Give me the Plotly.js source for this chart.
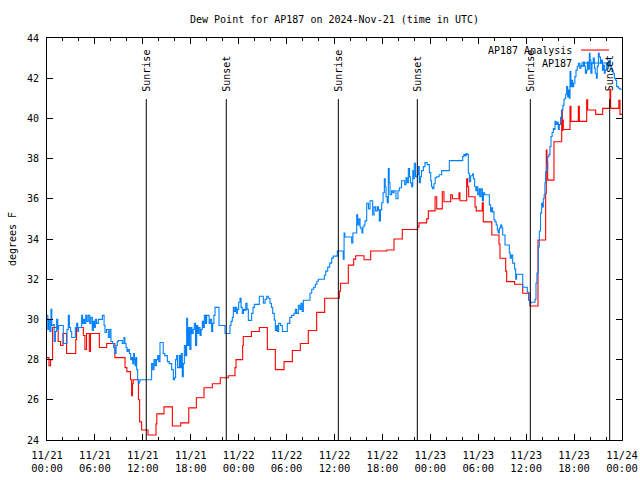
<!DOCTYPE html>
<html>
<head>
<meta charset="utf-8">
<script src="https://cdn.plot.ly/plotly-3.0.1.min.js"></script>
<style>html,body{margin:0;padding:0;background:#fff;}#chart{width:640px;height:480px;}</style>
</head>
<body>
<div id="chart"></div>
<script>
// ---- Data (hours after 2024-11-21 00:00 UTC) ----
const chartTitle = "Dew Point for AP187 on 2024-Nov-21 (time in UTC)";
const yTitle = "degrees F";
const seriesNames = ["AP187 Analysis", "AP187"];

const analysisHours = [0,0.25,0.45,0.7,1.4,1.7,2.0,2.45,3.6,3.7,4.55,4.75,4.95,5.3,5.45,6.55,7.47,8.5,9.77,10.0,10.45,10.6,10.7,10.8,11.45,11.6,11.85,12.65,13.65,13.75,14.65,15.7,16.74,17.75,18.7,19.66,20.7,21.7,22.7,23.54,23.67,24.5,24.58,25.6,26.59,27.59,28.59,29.68,30.72,31.72,32.72,33.77,34.77,36.6,36.75,37.73,38.4,38.65,39.7,40.53,42.53,43.45,44.49,46.42,46.58,47.54,47.75,48.59,48.8,49.5,49.71,50.55,50.76,51.59,51.71,52.55,52.68,52.8,53.6,53.75,54.5,54.63,55.7,56.6,56.72,57.44,57.56,58.55,59.57,60.48,61.48,62.44,62.52,62.6,62.69,63.48,64.45,64.53,64.58,64.65,65.49,65.61,66.53,66.66,67.58,67.7,68.7,69.58,70.49,70.58,71.6,71.75,72];
const analysisVals  = [28.1,27.7,28.0,29.6,28.9,28.7,29.3,28.3,29.0,29.6,29.2,28.5,29.3,28.4,29.3,28.6,28.8,28.1,27.6,27.4,27.0,26.2,26.8,27.0,26.0,24.9,24.5,24.25,24.8,25.3,25.65,24.7,24.85,25.6,26.1,26.6,26.8,27.1,27.2,27.6,28.0,28.7,29.15,29.4,29.6,28.5,27.5,27.9,28.45,28.8,29.45,30.35,31.05,31.4,31.8,32.7,33.0,33.17,32.97,33.4,33.45,34.0,34.47,34.6,34.8,35.0,35.4,36.1,35.5,36.35,35.85,36.2,36.0,36.3,35.9,37.0,36.6,36.1,35.6,35.4,35.8,34.85,34.2,33.75,33.04,32.4,31.88,31.75,31.3,30.67,33.95,36.27,38.43,37.8,36.93,38.84,40.42,39.4,39.9,39.45,40.6,39.85,40.6,39.85,40.92,40.42,40.2,40.5,41.45,40.5,40.9,40.2,40.2];

const obsHours = [0,0.1,0.2,0.35,0.5,0.6,0.79,0.9,1.05,1.21,1.35,1.45,2.04,2.5,2.67,2.8,2.95,3.09,3.55,3.71,3.85,3.95,4.34,4.45,4.55,4.7,4.85,5.0,5.17,5.35,5.5,5.67,5.8,5.92,6.05,6.2,6.43,6.93,7.15,7.26,7.45,7.68,7.85,8.01,8.2,8.35,8.51,8.65,8.8,8.93,9.43,9.64,9.75,9.9,10.02,10.15,10.31,10.48,10.6,10.73,10.85,10.95,11.02,11.12,11.23,11.35,11.43,11.55,11.64,13.1,13.25,13.4,13.55,13.7,13.86,14.0,14.15,14.55,14.75,15.07,15.3,15.61,15.82,15.95,16.1,16.24,16.35,16.57,16.7,16.82,16.94,17.07,17.2,17.35,17.49,17.6,17.74,17.88,18.03,18.15,18.3,18.45,18.6,18.74,18.88,19.0,19.16,19.3,19.45,19.58,19.7,19.85,19.99,20.3,20.45,20.62,20.75,20.9,21.04,21.54,22.29,22.91,23.04,23.2,23.33,23.45,23.6,23.75,23.85,24.0,24.17,24.3,24.45,24.6,24.75,24.9,25.05,25.21,25.63,25.8,25.96,26.59,27.09,27.3,27.51,27.7,27.92,28.1,28.26,28.46,28.59,28.75,28.85,29.01,29.25,29.47,30.09,30.4,30.64,30.93,31.1,31.25,31.47,31.65,31.8,31.95,32.1,32.93,33.15,33.39,33.6,33.8,33.98,34.73,34.9,35.15,35.4,35.65,35.85,36.35,37.1,37.2,37.3,38.15,38.3,38.78,38.9,39.05,39.2,39.32,39.45,39.55,39.7,39.82,40.03,40.25,40.45,40.78,40.95,41.15,41.36,41.5,41.61,41.75,41.91,42.08,42.24,42.35,42.45,42.6,42.74,42.85,42.95,43.15,43.3,43.45,43.7,43.95,44.12,44.4,44.62,44.78,44.95,45.1,45.25,45.4,45.5,45.66,45.8,45.9,45.99,46.15,46.37,46.5,46.62,46.75,46.9,47.12,47.33,47.6,47.88,48.05,48.15,48.29,48.45,48.6,48.79,49.1,49.42,50.38,52.05,52.2,52.35,52.47,52.6,52.76,52.89,53.05,53.3,53.39,53.55,53.7,53.82,53.93,54.1,54.2,54.35,54.51,54.65,54.8,55.26,55.39,55.55,55.65,55.8,55.97,56.1,56.25,56.39,56.5,56.64,56.8,56.95,57.06,57.35,57.89,58.0,58.15,58.31,58.55,58.69,58.8,59.44,59.57,60.14,60.3,60.48,60.6,61.11,61.23,61.35,61.52,61.65,61.8,61.94,62.05,62.15,62.25,62.35,62.44,62.55,62.69,62.85,62.98,63.11,63.25,63.4,63.5,63.61,63.75,63.9,64.03,64.15,64.3,64.45,64.6,64.74,64.85,64.95,65.07,65.2,65.3,65.4,65.49,65.6,65.7,65.82,65.95,66.1,66.24,66.4,66.53,66.7,66.87,67.0,67.16,67.3,67.41,67.55,67.66,67.8,67.91,68.0,68.1,68.24,68.4,68.54,68.65,68.79,68.9,69.04,69.15,69.3,69.41,69.55,69.65,69.79,69.9,70.04,70.2,70.3,70.42,70.55,70.65,70.75,70.9,71.04,71.2,71.33,71.55,71.75,72];
const obsVals  = [30.2,29.5,30.0,29.4,30.5,29.7,29.75,28.9,29.4,30.0,29.5,29.7,28.8,29.5,30.2,29.6,29.4,29.1,29.6,29.8,29.4,29.6,30.2,29.8,30.0,29.8,30.2,29.9,30.2,29.8,30.1,29.45,29.9,29.6,30.0,29.8,30.0,30.2,29.7,29.35,29.5,29.1,29.5,28.9,28.8,28.6,28.3,28.7,28.9,28.95,28.8,29.1,28.8,28.6,28.4,28.5,28.3,28.0,28.1,27.8,28.3,28.0,27.7,28.1,27.5,27.0,26.8,26.9,27.0,27.8,27.5,28.0,27.7,28.0,28.2,27.9,28.85,28.3,28.2,27.9,27.8,27.5,27.0,27.1,28.0,28.2,27.6,28.2,27.6,28.3,27.15,27.8,28.7,28.2,30.05,28.7,29.6,28.5,29.6,29.3,29.5,29.8,28.7,29.7,29.3,29.6,29.2,29.5,29.9,29.6,30.2,29.8,30.2,29.8,30.0,29.4,29.8,30.2,30.6,29.7,29.3,29.7,29.9,30.1,30.6,30.4,30.6,30.3,30.5,30.85,31.05,30.6,30.3,30.5,30.45,30.8,30.5,29.95,30.3,30.6,30.75,31.15,30.8,31.0,31.15,31.05,30.8,30.6,30.3,29.97,29.45,29.7,29.4,29.8,29.7,29.4,29.8,30.1,30.2,30.3,30.5,30.3,30.7,30.5,30.8,30.4,30.95,31.3,31.5,31.6,31.75,31.9,32.0,32.2,32.4,32.6,32.8,33.05,33.15,33.4,33.0,34.3,34.1,33.8,34.3,35.2,34.7,35.0,34.6,34.5,34.3,34.6,34.7,34.9,35.78,35.5,35.9,35.2,35.6,35.4,35.6,35.45,34.9,35.45,35.8,36.3,37.0,36.6,36.1,35.8,37.5,36.8,36.2,36.4,36.3,36.4,36.0,36.4,36.55,36.9,36.9,36.7,37.05,36.8,37.5,37.1,36.8,36.6,37.4,37.0,37.77,37.1,37.2,37.6,36.8,37.1,37.4,37.6,37.8,37.7,37.3,36.9,36.6,36.5,36.75,37.05,37.1,37.2,37.4,37.9,38.1,38.2,38.15,38.25,38.2,37.27,36.85,37.15,37.25,37.0,36.6,36.4,36.6,36.2,36.5,36.1,36.5,35.9,36.3,36.2,36.2,35.7,35.36,35.55,35.35,34.95,34.85,34.7,34.45,34.3,34.55,34.7,34.55,34.2,33.7,33.3,33.05,33.2,32.8,32.5,32.0,32.25,32.25,31.6,31.35,30.95,30.8,30.85,31.0,31.8,32.3,33.6,34.4,35.3,35.78,35.6,36.0,36.2,36.8,37.35,37.5,38.1,38.2,38.6,39.1,39.3,39.5,39.45,39.85,39.7,39.8,39.45,39.7,40.05,40.42,40.65,40.95,41.0,41.2,41.58,41.08,41.41,41.0,42.33,41.58,41.9,41.58,41.75,42.08,42.4,42.57,42.74,42.5,42.65,42.6,42.8,42.6,42.25,42.4,42.8,42.45,43.24,42.9,42.25,42.75,43.0,42.5,42.25,42.0,42.6,43.24,43.05,42.75,42.9,42.4,42.65,42.25,42.4,42.75,42.5,42.85,42.9,42.6,42.5,42.35,42.25,42.0,41.9,41.58,41.5,41.45,41.45];

const sunEventHours  = [12.43, 22.45, 36.48, 46.37, 60.52, 70.46];
const sunEventLabels = ["Sunrise", "Sunset", "Sunrise", "Sunset", "Sunrise", "Sunset"];

const xTickHours  = [0,6,12,18,24,30,36,42,48,54,60,66,72];
const xTickLabels = ["11/21<br>00:00","11/21<br>06:00","11/21<br>12:00","11/21<br>18:00",
                     "11/22<br>00:00","11/22<br>06:00","11/22<br>12:00","11/22<br>18:00",
                     "11/23<br>00:00","11/23<br>06:00","11/23<br>12:00","11/23<br>18:00",
                     "11/24<br>00:00"];
const yTickVals = [24,26,28,30,32,34,36,38,40,42,44];

// ---- helpers ----
const BASE = Date.UTC(2024, 10, 21, 0, 0, 0);
function toDate(h) {
  const d = new Date(BASE + Math.round(h * 3600000));
  return d.toISOString().slice(0, 19).replace('T', ' ');
}

const FONT = {family: '"DejaVu Sans Mono", "Liberation Mono", monospace', size: 10, color: '#000'};
const XFONT = {family: '"DejaVu Sans Mono", "Liberation Mono", monospace', size: 10.5, color: '#000'};
const RED = '#ff0000';
const BLUE = '#0080ff';

const traces = [
  {
    x: analysisHours.map(toDate), y: analysisVals, name: seriesNames[0],
    type: 'scatter', mode: 'lines', line: {color: RED, width: 1.1, shape: 'hv'},
    showlegend: false
  },
  {
    x: obsHours.map(toDate), y: obsVals, name: seriesNames[1],
    type: 'scatter', mode: 'lines', line: {color: BLUE, width: 1.1, shape: 'hv'},
    showlegend: false
  }
];

const shapes = sunEventHours.map(h => ({
  type: 'line', xref: 'x', yref: 'paper', x0: toDate(h), x1: toDate(h),
  y0: 0, y1: 0.848, line: {color: '#000', width: 1}, layer: 'above'
}));
const annotations = sunEventHours.map((h, i) => ({
  xref: 'x', yref: 'paper', x: toDate(h), y: 0.862, text: sunEventLabels[i],
  textangle: -90, showarrow: false, xanchor: 'center', yanchor: 'bottom',
  font: FONT
}));

// legend (gnuplot style: text then sample line)
const legendY = [0.9701, 0.9378];
const legendColors = [RED, BLUE];
seriesNames.forEach((nm, i) => {
  annotations.push({xref: 'paper', yref: 'paper', x: 0.9165, y: legendY[i], text: nm,
    showarrow: false, xanchor: 'right', yanchor: 'middle', font: FONT});
  shapes.push({type: 'line', xref: 'paper', yref: 'paper', x0: 0.9287, x1: 0.9774,
    y0: legendY[i], y1: legendY[i], line: {color: legendColors[i], width: 1.1}, layer: 'above'});
});

const layout = {
  width: 640, height: 480,
  margin: {l: 47, r: 18, t: 38, b: 40, pad: 0},
  paper_bgcolor: '#fff', plot_bgcolor: '#fff',
  font: FONT,
  title: {text: chartTitle, font: FONT, xref: 'paper', x: 0.5, xanchor: 'center',
          yref: 'container', y: 1 - 19/480, yanchor: 'middle'},
  xaxis: {
    type: 'date', range: [toDate(0), toDate(72)],
    tickmode: 'array', tickvals: xTickHours.map(toDate), ticktext: xTickLabels,
    ticks: 'inside', ticklen: 6, tickwidth: 1, tickcolor: '#000',
    minor: {dtick: 7200000, tick0: toDate(0), ticks: 'inside', ticklen: 3, tickwidth: 1, tickcolor: '#000', showgrid: false},
    showline: true, linecolor: '#000', linewidth: 1, mirror: 'allticks',
    showgrid: false, zeroline: false, tickfont: XFONT, automargin: false,
    ticklabelstandoff: 5
  },
  yaxis: {
    range: [24, 44], tickmode: 'array', tickvals: yTickVals,
    ticks: 'inside', ticklen: 6, tickwidth: 1, tickcolor: '#000',
    showline: true, linecolor: '#000', linewidth: 1, mirror: 'allticks',
    showgrid: false, zeroline: false, tickfont: FONT, automargin: false,
    ticklabelstandoff: 5,
    title: {text: yTitle, font: FONT, standoff: 8}
  },
  shapes: shapes,
  annotations: annotations,
  showlegend: false
};

Plotly.newPlot('chart', traces, layout, {staticPlot: true, displayModeBar: false});
</script>
</body>
</html>
